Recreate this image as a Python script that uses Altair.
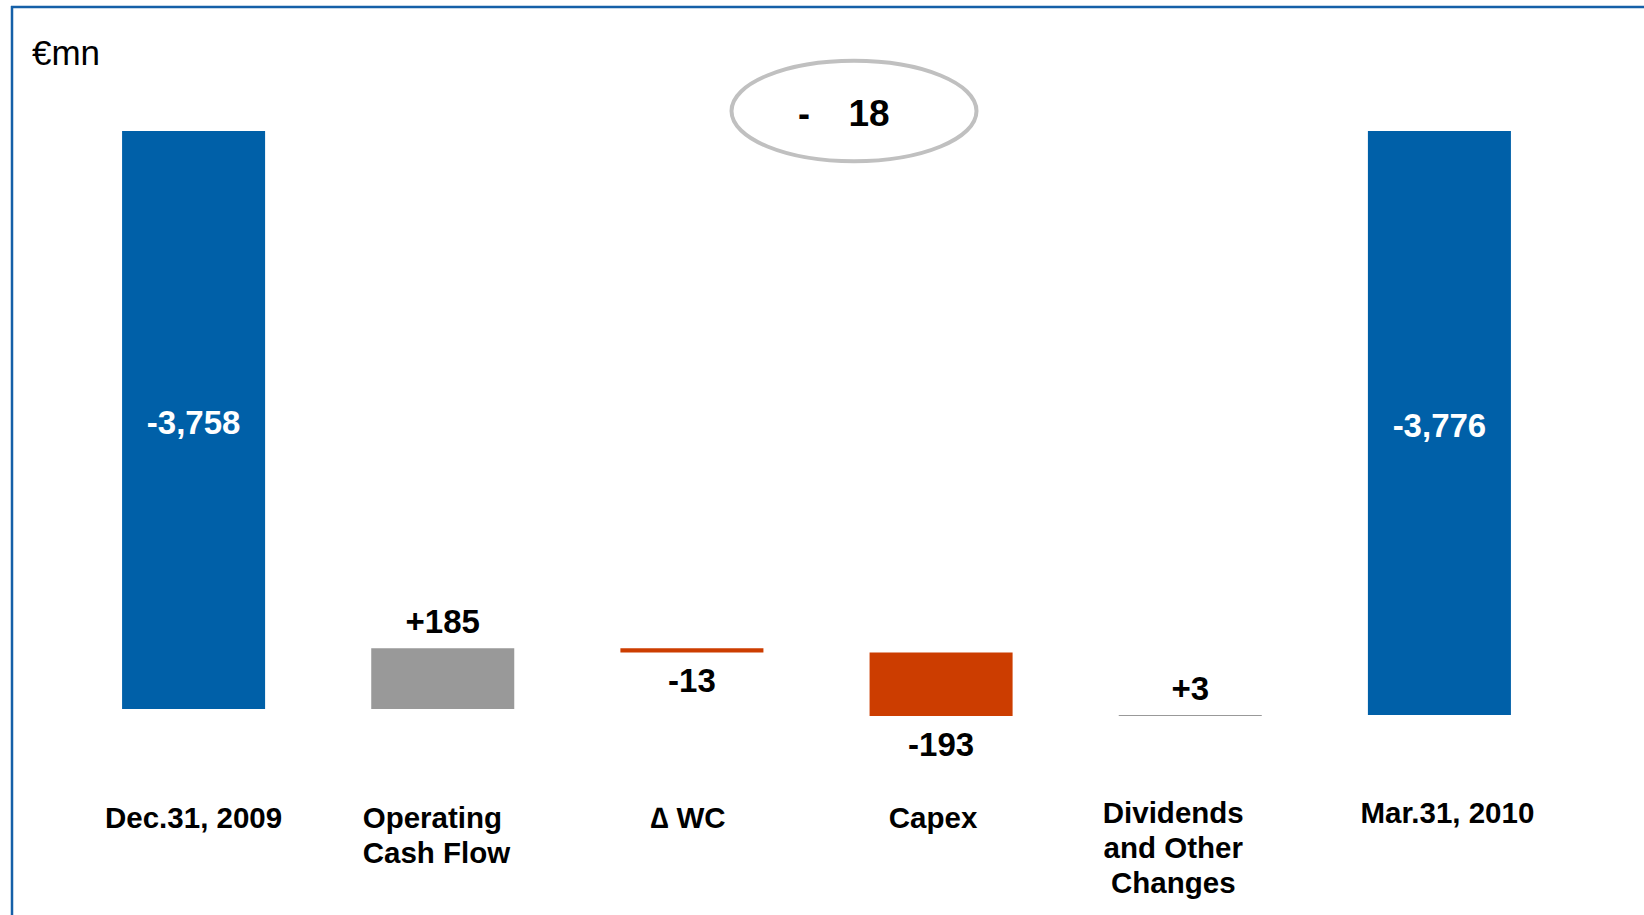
import altair as alt
import pandas as pd

# ---- data (EUR mn) ----
categories = ["Dec.31, 2009", "Operating|Cash Flow", "∆ WC", "Capex",
              "Dividends|and Other|Changes", "Mar.31, 2010"]
values = [-3758, 185, -13, -193, 3, -3776]
kinds = ["total", "delta", "delta", "delta", "delta", "total"]
unit_label = "€mn"

# visible window of the (broken) value axis
Y_TOP = -2000
Y_BOTTOM = -3913

# ---- waterfall geometry from the values ----
starts, ends, tones, labels, mids = [], [], [], [], []
level = 0
for v, k in zip(values, kinds):
    if k == "total":
        s, e = 0, v
        level = v
        tones.append("total")
        labels.append(f"{v:,}")
    else:
        s = level
        level = level + v
        e = level
        tones.append("up" if v > 0 else "down")
        labels.append(f"{v:+d}")
    starts.append(s)
    ends.append(e)
    mids.append((min(s, Y_TOP) + e) / 2)

df = pd.DataFrame({"cat": categories, "start": starts, "end": ends,
                   "tone": tones, "label": labels, "mid": mids, "value": values})

net_change = values[-1] - values[0]

FONT = "Liberation Sans"
BLUE = "#0060A8"
GRAY = "#999999"
RED = "#CC3D00"

label_offset = {
    "condition": [
        {"test": f"datum.value == '{categories[1]}'", "value": -80},
        {"test": f"datum.value == '{categories[2]}'", "value": -4},
        {"test": f"datum.value == '{categories[3]}'", "value": -8},
        {"test": f"datum.value == '{categories[4]}'", "value": -17},
        {"test": f"datum.value == '{categories[5]}'", "value": 8},
    ],
    "value": 0,
}
label_align = {
    "condition": {"test": f"datum.value == '{categories[1]}'", "value": "left"},
    "value": "center",
}
label_padding = {
    "condition": [
        {"test": f"datum.value == '{categories[4]}' || datum.value == '{categories[5]}'",
         "value": 39},
    ],
    "value": 44,
}

x_enc = alt.X(
    "cat:N", sort=categories,
    scale=alt.Scale(paddingInner=0.426, paddingOuter=0.213),
    axis=alt.Axis(title=None, labelAngle=0, ticks=False, domain=False, grid=False,
                  labelFontSize=29.5, labelFontWeight="bold", labelFont=FONT,
                  labelColor="black", labelPadding=label_padding, labelLineHeight=35,
                  labelOffset=label_offset, labelAlign=label_align,
                  labelBaseline="top", labelLimit=400,
                  labelExpr="split(datum.label, '|')"),
)
y_scale = alt.Scale(domain=[Y_BOTTOM, Y_TOP], clamp=True, nice=False, zero=False)

base = alt.Chart(df)

bars = base.mark_bar().encode(
    x=x_enc,
    y=alt.Y("start:Q", scale=y_scale, axis=None),
    y2="end:Q",
    color=alt.Color("tone:N", scale=alt.Scale(domain=["total", "up", "down"],
                                              range=[BLUE, GRAY, RED]), legend=None),
)

total_labels = base.transform_filter("datum.tone == 'total'").mark_text(
    font=FONT, fontSize=33, fontWeight="bold", color="white", baseline="middle", dy=4
).encode(x=alt.X("cat:N", sort=categories), y=alt.Y("mid:Q"), text="label:N")

up_labels = base.transform_filter("datum.tone == 'up'").mark_text(
    font=FONT, fontSize=33, fontWeight="bold", color="black",
    baseline="alphabetic", dy=-15
).encode(x=alt.X("cat:N", sort=categories), y=alt.Y("end:Q"), text="label:N")

down_labels = base.transform_filter("datum.tone == 'down'").mark_text(
    font=FONT, fontSize=33, fontWeight="bold", color="black",
    baseline="top", dy=14
).encode(x=alt.X("cat:N", sort=categories), y=alt.Y("end:Q"), text="label:N")

one = pd.DataFrame({"sign": ["-" if net_change < 0 else "+"],
                    "amount": [str(abs(net_change))], "unit": [unit_label]})
ann = alt.Chart(one)

ellipse = ann.mark_point(
    shape="M -1 0 A 1 0.41 0 1 0 1 0 A 1 0.41 0 1 0 -1 0",
    filled=False, stroke="#C0C0C0", strokeWidth=4, opacity=1
).encode(x=alt.value(785), y=alt.value(-20), size=alt.value(245 * 245))

sign_txt = ann.mark_text(font=FONT, fontSize=36, fontWeight="bold", color="black",
                         baseline="middle").encode(
    x=alt.value(735), y=alt.value(-16), text="sign:N")
amount_txt = ann.mark_text(font=FONT, fontSize=37, fontWeight="bold", color="black",
                           baseline="middle").encode(
    x=alt.value(800), y=alt.value(-16), text="amount:N")

unit_txt = ann.mark_text(font=FONT, fontSize=35, color="black", align="left",
                         baseline="alphabetic").encode(
    x=alt.value(-37), y=alt.value(-66), text="unit:N")

frame_top = ann.mark_rule(color="#1560A8", strokeWidth=2.5).encode(
    x=alt.value(-58), x2=alt.value(1580), y=alt.value(-124))
frame_left = ann.mark_rule(color="#1560A8", strokeWidth=2.5).encode(
    x=alt.value(-57), y=alt.value(-125), y2=alt.value(800))

chart = alt.layer(
    frame_top, frame_left, bars, total_labels, up_labels, down_labels,
    ellipse, sign_txt, amount_txt, unit_txt
).properties(
    width=1495, height=629,
    autosize=alt.AutoSizeParams(type="none"),
    padding={"left": 69, "top": 131, "right": 80, "bottom": 155},
    background="white",
).configure_view(stroke=None)

chart.save("out.html", embed_options={"renderer": "svg", "actions": False})
